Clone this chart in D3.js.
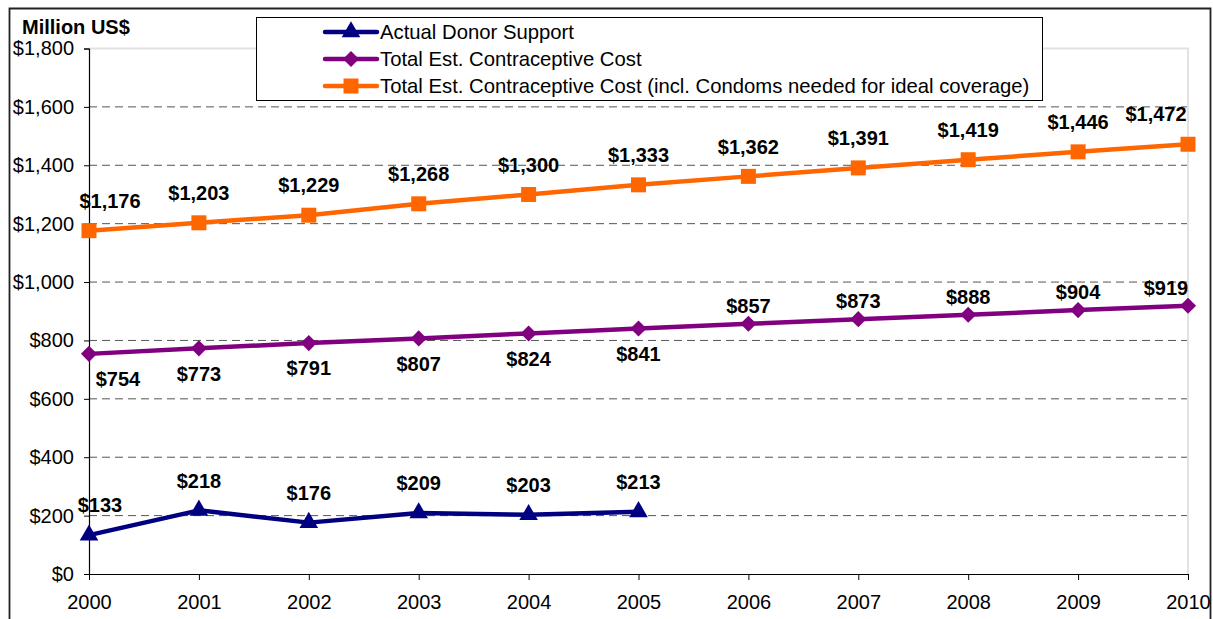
<!DOCTYPE html>
<html>
<head>
<meta charset="utf-8">
<script src="https://cdn.jsdelivr.net/npm/d3@7"></script>
<style>
  html, body { margin: 0; padding: 0; background: #fff; }
  svg { display: block; font-family: "Liberation Sans", Arial, sans-serif; }
</style>
</head>
<body>
<svg id="chart" width="1213" height="619"></svg>
<script>
// ---- data ----
const years = [2000, 2001, 2002, 2003, 2004, 2005, 2006, 2007, 2008, 2009, 2010];
const donorSupport = [133, 218, 176, 209, 203, 213];
const contraceptiveCost = [754, 773, 791, 807, 824, 841, 857, 873, 888, 904, 919];
const costInclCondoms = [1176, 1203, 1229, 1268, 1300, 1333, 1362, 1391, 1419, 1446, 1472];
const yTicks = [0, 200, 400, 600, 800, 1000, 1200, 1400, 1600, 1800];
const seriesNames = [
  "Actual Donor Support",
  "Total Est. Contraceptive Cost",
  "Total Est. Contraceptive Cost (incl. Condoms needed for ideal coverage)"
];
const yAxisTitle = "Million US$";

// ---- layout / style ----
const svg = d3.select("#chart");
const plot = { left: 89, right: 1188, top: 48.5, bottom: 574 };
const x = d3.scaleLinear().domain([2000, 2010]).range([plot.left, plot.right]);
const y = d3.scaleLinear().domain([0, 1800]).range([plot.bottom, plot.top]);
const fmt = v => "$" + d3.format(",")(v);
const FONT = "Liberation Sans, Arial, sans-serif";

const series = [
  { name: seriesNames[0], values: donorSupport, color: "#000080", marker: "triangle",
    labelDy: -30, firstDx: 11, lastDx: 0, belowUntil: -1 },
  { name: seriesNames[1], values: contraceptiveCost, color: "#800080", marker: "diamond",
    labelDy: -18, labelDyBelow: 25, firstDx: 29, lastDx: -22, belowUntil: 5 },
  { name: seriesNames[2], values: costInclCondoms, color: "#FF6600", marker: "square",
    labelDy: -30, firstDx: 21, lastDx: -32, belowUntil: -1 }
];

function markerPath(type) {
  if (type === "triangle") return d3.symbol(d3.symbolTriangle, 150)();
  if (type === "square") return d3.symbol(d3.symbolSquare, 225)();
  return d3.symbol(d3.symbolSquare, 130)();
}
function markerTransform(type, px, py) {
  return type === "diamond" ? `translate(${px},${py}) rotate(45)` : `translate(${px},${py})`;
}

// ---- outer frame ----
svg.append("path")
  .attr("d", "M9.5,640 L9.5,8.5 L1210.5,8.5 L1210.5,640")
  .attr("fill", "none").attr("stroke", "#222").attr("stroke-width", 1.8);

// ---- gridlines ----
const grid = svg.append("g");
grid.selectAll("line.g").data(yTicks.filter(t => t > 0 && t < 1800)).join("line")
  .attr("x1", plot.left).attr("x2", plot.right)
  .attr("y1", d => y(d)).attr("y2", d => y(d))
  .attr("stroke", "#555").attr("stroke-width", 1).attr("stroke-dasharray", "8,5");
// plot area border top/right (light gray)
svg.append("path")
  .attr("d", `M${plot.left},${y(1800)} L${plot.right},${y(1800)} L${plot.right},${plot.bottom}`)
  .attr("fill", "none").attr("stroke", "#e2e2e2").attr("stroke-width", 2);

// ---- axes ----
const yAxis = d3.axisLeft(y).tickValues(yTicks).tickFormat(fmt).tickSize(5).tickPadding(10);
const gy = svg.append("g").attr("transform", `translate(${plot.left},0)`).call(yAxis);
gy.select(".domain").attr("stroke", "#000").attr("stroke-width", 1.2);
gy.selectAll(".tick line").attr("stroke", "#000");
gy.selectAll(".tick text").attr("font-size", 20).attr("fill", "#000").attr("font-family", FONT);

const xAxis = d3.axisBottom(x).tickValues(years).tickFormat(d3.format("d")).tickSize(6).tickSizeOuter(0).tickPadding(15);
const gx = svg.append("g").attr("transform", `translate(0,${plot.bottom})`).call(xAxis);
gx.select(".domain").attr("stroke", "#000").attr("stroke-width", 1.2);
gx.selectAll(".tick line").attr("stroke", "#000");
gx.selectAll(".tick text").attr("font-size", 20).attr("fill", "#000").attr("font-family", FONT);

// axis title
svg.append("text").attr("x", 22).attr("y", 34).attr("font-size", 20).attr("font-weight", "bold")
  .text(yAxisTitle);

// ---- series ----
const line = d3.line().x((d, i) => x(years[i])).y(d => y(d));
series.forEach(s => {
  svg.append("path").datum(s.values).attr("d", line)
    .attr("fill", "none").attr("stroke", s.color).attr("stroke-width", 4.5)
    .attr("stroke-linejoin", "round");
  svg.append("g").selectAll("path").data(s.values).join("path")
    .attr("d", markerPath(s.marker))
    .attr("transform", (d, i) => markerTransform(s.marker, x(years[i]), y(d)))
    .attr("fill", s.color);
});

// ---- data labels ----
series.forEach(s => {
  svg.append("g").selectAll("text").data(s.values).join("text")
    .attr("x", (d, i) => x(years[i]) + (i === 0 ? s.firstDx : (i === years.length - 1 ? s.lastDx : 0)))
    .attr("y", (d, i) => y(d) + (i <= s.belowUntil ? s.labelDyBelow : s.labelDy))
    .attr("dy", "0.36em")
    .attr("text-anchor", "middle")
    .attr("font-size", 20).attr("font-weight", "bold").attr("fill", "#000")
    .text(d => fmt(d));
});

// ---- legend ----
const lg = svg.append("g");
lg.append("rect").attr("x", 256.5).attr("y", 17.5).attr("width", 786).attr("height", 83)
  .attr("fill", "#fff").attr("stroke", "#000").attr("stroke-width", 1);
series.forEach((s, i) => {
  const cy = 32 + i * 27;
  lg.append("line").attr("x1", 325).attr("x2", 377).attr("y1", cy).attr("y2", cy)
    .attr("stroke", s.color).attr("stroke-width", 4.5).attr("stroke-linecap", "round");
  lg.append("path").attr("d", markerPath(s.marker))
    .attr("transform", markerTransform(s.marker, 351, cy)).attr("fill", s.color);
  lg.append("text").attr("x", 380).attr("y", cy).attr("dy", "0.36em")
    .attr("font-size", 20.3).attr("fill", "#000").text(s.name);
});
</script>
</body>
</html>
